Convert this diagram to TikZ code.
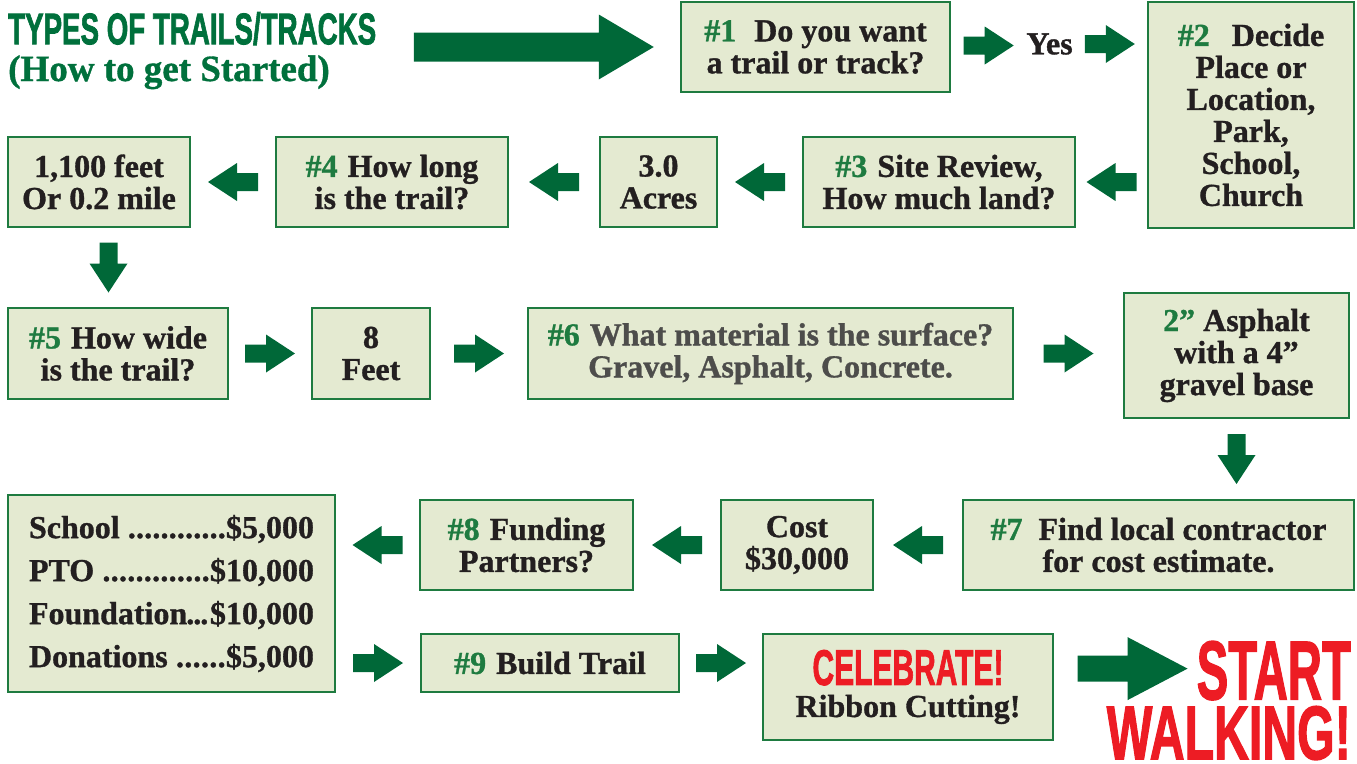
\documentclass[tikz,border=0pt]{standalone}
\usepackage{fontspec}
\setmainfont{Liberation Serif}[BoldFeatures={FakeBold=1}]
\newfontfamily\heavy{Liberation Sans}[BoldFeatures={FakeBold=2}]
\usetikzlibrary{calc}
\definecolor{bgreen}{HTML}{1E7B40}
\definecolor{agreen}{HTML}{006838}
\definecolor{hgreen}{HTML}{1E7B40}
\definecolor{tgreen}{HTML}{00703C}
\definecolor{bfill}{HTML}{E4EAD1}
\definecolor{txt}{HTML}{231F20}
\definecolor{gtxt}{HTML}{4D4D4B}
\definecolor{rred}{HTML}{ED1C24}
\newcommand\hn[1]{\textcolor{hgreen}{\##1}}
\newcommand\lrow[3]{\hbox to 285pt{#1#2\xleaders\hbox{.}\hfill#3}}
\tikzset{
  bodyfont/.style={font=\fontsize{32}{32}\selectfont\bfseries},
  boxbase/.style={draw=bgreen, line width=2.5pt, fill=bfill, inner sep=0pt, text=txt, bodyfont},
  box/.style={boxbase, align=center},
  sarrow/.pic={\fill[agreen] (-25,-9) -- (-4,-9) -- (-4,-19) -- (25,0) -- (-4,19) -- (-4,9) -- (-25,9) -- cycle;},
}
\begin{document}
\begin{tikzpicture}[x=1pt,y=-1pt]
\useasboundingbox (0,0) rectangle (1357,763);
% title
\node[anchor=north west, inner sep=0pt, text=tgreen] (title) at (8,12)
  {\resizebox{368pt}{32pt}{\heavy\bfseries TYPES OF TRAILS/TRACKS}};
\node[anchor=base west, inner sep=0pt, text=tgreen, font=\fontsize{37}{37}\selectfont\bfseries] (sub) at (8,81) {(How to get Started)};
% boxes
\node[box, minimum width=269pt, minimum height=90pt] (b1) at (815.5,47) {\hn1\hspace{18pt}Do you want\\a trail or track?};
\node[inner sep=0pt, text=txt, bodyfont] (yes) at (1049.5,44) {Yes};
\node[box, minimum width=206pt, minimum height=226pt] (b2) at (1251,115) {\hn2\hspace{22pt}Decide\\Place or\\Location,\\Park,\\School,\\Church};
\node[box, minimum width=272pt, minimum height=90pt] (b3) at (939,182) {\hn3\hspace{10pt}Site Review,\\How much land?};
\node[box, minimum width=117pt, minimum height=90pt] (acres) at (658.5,182) {3.0\\Acres};
\node[box, minimum width=232pt, minimum height=90pt] (b4) at (392,182) {\hn4\hspace{10pt}How long\\is the trail?};
\node[box, minimum width=182pt, minimum height=90pt] (feet) at (99,182) {1,100 feet\\Or 0.2 mile};
\node[box, minimum width=220pt, minimum height=91pt] (b5) at (118,353.5) {\hn5\hspace{10pt}How wide\\is the trail?};
\node[box, minimum width=118pt, minimum height=91pt] (eight) at (371,353.5) {8\\Feet};
\node[box, minimum width=485pt, minimum height=91pt, text=gtxt] (b6) at (770.5,353.5) {\hn6\hspace{10pt}What material is the surface?\\Gravel, Asphalt, Concrete.};
\node[box, minimum width=225pt, minimum height=125pt] (asph) at (1236.5,355.5) {\textcolor{hgreen}{2”} Asphalt\\with a 4”\\gravel base};
\node[box, minimum width=391pt, minimum height=90pt] (b7) at (1158.5,545) {\hn7\hspace{16pt}Find local contractor\\for cost estimate.};
\node[box, minimum width=152pt, minimum height=90pt] (cost) at (797,545) {Cost\\\$30,000};
\node[box, minimum width=213pt, minimum height=90pt] (b8) at (526.5,545) {\hn8\hspace{10pt}Funding\\Partners?};
\node[boxbase, minimum width=327pt, minimum height=197pt] (list) at (171.5,593.5)
  {\vbox{\baselineskip=43pt\lineskiplimit=0pt
   \lrow{School}{\ }{\$5,000}
   \lrow{PTO}{\ }{\$10,000}
   \lrow{Foundation}{\kern-1pt.\kern-1pt.\kern-1pt.\kern-1pt}{\$10,000}
   \lrow{Donations}{\ }{\$5,000}}};
\node[box, minimum width=258pt, minimum height=58pt] (b9) at (550,663) {\hn9\hspace{10pt}Build Trail};
\node[box, minimum width=290pt, minimum height=106pt] (cel) at (908,687)
  {\resizebox{191pt}{35pt}{\heavy\bfseries\textcolor{rred}{CELEBRATE!}}\\Ribbon Cutting!};
\node[anchor=north east, inner sep=0pt] (start) at (1351,641) {\resizebox{154pt}{58pt}{\heavy\bfseries\textcolor{rred}{START}}};
\node[anchor=north east, inner sep=0pt] (walk) at (1351,706) {\resizebox{244pt}{53pt}{\heavy\bfseries\textcolor{rred}{WALKING!}}};
% big arrows
\coordinate (t1) at ($(b1.west)+(-26,0)$);
\fill[agreen, shift={(t1)}] (-240,-14.5) -- (-55,-14.5) -- (-55,-32.5) -- (0,0) -- (-55,32.5) -- (-55,14.5) -- (-240,14.5) -- cycle;
\coordinate (t2) at ($(start.west)+(-9,-2)$);
\fill[agreen, shift={(t2)}] (-110,-13) -- (-60,-13) -- (-60,-31.5) -- (0,0) -- (-60,31.5) -- (-60,13) -- (-110,13) -- cycle;
% small arrows
\pic at ($(b1.east)!0.5!(yes.west)$) {sarrow};
\pic at ($(yes.east)!0.5!(b2.west|-yes.east)$) {sarrow};
\pic[rotate=180] at ($(b3.east)!0.5!(b2.west|-b3.east)$) {sarrow};
\pic[rotate=180] at ($(acres.east)!0.5!(b3.west)$) {sarrow};
\pic[rotate=180] at ($(b4.east)!0.5!(acres.west)$) {sarrow};
\pic[rotate=180] at ($(feet.east)!0.5!(b4.west)$) {sarrow};
\pic[rotate=-90] at ($(feet.south)!0.5!(b5.north)$) {sarrow};
\pic at ($(b5.east)!0.5!(eight.west)$) {sarrow};
\pic at ($(eight.east)!0.5!(b6.west)$) {sarrow};
\pic at ($(b6.east)!0.5!(asph.west|-b6.east)$) {sarrow};
\pic[rotate=-90] at ($(asph.south)!0.5!(asph.south|-b7.north)$) {sarrow};
\pic[rotate=180] at ($(cost.east)!0.5!(b7.west)$) {sarrow};
\pic[rotate=180] at ($(b8.east)!0.5!(cost.west)$) {sarrow};
\pic[rotate=180] at ($(b8.west)!0.5!(list.east|-b8.west)$) {sarrow};
\pic at ($(list.east|-b9.west)!0.5!(b9.west)$) {sarrow};
\pic at ($(b9.east)!0.5!(cel.west|-b9.east)$) {sarrow};
\end{tikzpicture}
\end{document}
